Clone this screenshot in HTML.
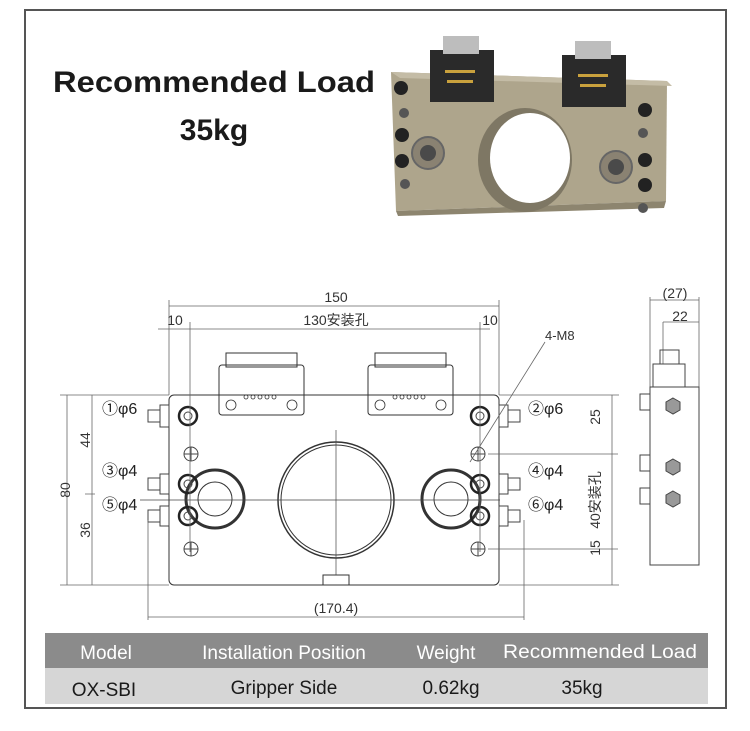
<!DOCTYPE html>
<html><head><meta charset="utf-8"><style>
html,body{margin:0;padding:0;background:#fff;}
svg{display:block;font-family:"Liberation Sans","Noto Sans CJK SC",sans-serif;}
</style></head><body>
<svg width="750" height="731" viewBox="0 0 750 731" xmlns="http://www.w3.org/2000/svg">
<rect x="25" y="10" width="701" height="698" fill="#fff" stroke="#555" stroke-width="2"/>
<!-- title -->
<text x="214" y="92" font-size="30" font-weight="bold" text-anchor="middle" fill="#1a1a1a" textLength="322" lengthAdjust="spacingAndGlyphs">Recommended Load</text>
<text x="214" y="140" font-size="30" font-weight="bold" text-anchor="middle" fill="#1a1a1a">35kg</text>
<!-- photo -->
<g>
<polygon points="391,72 667,81 666,201 396,211" fill="#aea58c"/>
<polygon points="391,72 667,81 672,86 400,78" fill="#c4bca6"/>
<polygon points="396,211 666,201 664,208 398,216" fill="#8d856f"/>
<ellipse cx="525" cy="160" rx="47" ry="52" fill="#7e7764"/>
<ellipse cx="530" cy="158" rx="40" ry="45" fill="#fff"/>
<rect x="430" y="50" width="64" height="52" fill="#2a2a2a"/>
<rect x="443" y="36" width="36" height="18" fill="#bdbdbd"/>
<rect x="562" y="55" width="64" height="52" fill="#2a2a2a"/>
<rect x="575" y="41" width="36" height="18" fill="#bdbdbd"/>
<g fill="#c9a13d"><rect x="445" y="70" width="30" height="3"/><rect x="447" y="80" width="26" height="3"/><rect x="578" y="74" width="30" height="3"/><rect x="580" y="84" width="26" height="3"/></g>
<g fill="#222"><circle cx="401" cy="88" r="7"/><circle cx="402" cy="135" r="7"/><circle cx="402" cy="161" r="7"/><circle cx="645" cy="110" r="7"/><circle cx="645" cy="160" r="7"/><circle cx="645" cy="185" r="7"/></g>
<g fill="#555"><circle cx="404" cy="113" r="5"/><circle cx="405" cy="184" r="5"/><circle cx="643" cy="133" r="5"/><circle cx="643" cy="208" r="5"/></g>
<circle cx="428" cy="153" r="16" fill="#8a8272" stroke="#666" stroke-width="2"/><circle cx="428" cy="153" r="8" fill="#4a4a4a"/>
<circle cx="616" cy="167" r="16" fill="#8a8272" stroke="#666" stroke-width="2"/><circle cx="616" cy="167" r="8" fill="#4a4a4a"/>
</g>
<!-- drawing -->
<g stroke="#333" fill="none" stroke-width="1">
<rect x="169" y="395" width="330" height="190" rx="5"/>
<rect x="219" y="365" width="85" height="50" rx="3"/><rect x="226" y="353" width="71" height="14"/>
<rect x="368" y="365" width="85" height="50" rx="3"/><rect x="375" y="353" width="71" height="14"/>
<circle cx="336" cy="500" r="58" stroke-width="1.5"/><circle cx="336" cy="500" r="55"/>
<path d="M323 585 v-10 h26 v10"/>
<circle cx="215" cy="499" r="29" stroke-width="3"/><circle cx="215" cy="499" r="17"/>
<circle cx="451" cy="499" r="29" stroke-width="3"/><circle cx="451" cy="499" r="17"/>
</g>
<g stroke="#222" fill="none" stroke-width="2.5">
<circle cx="188" cy="416" r="9"/><circle cx="188" cy="484" r="9"/><circle cx="188" cy="516" r="9"/>
<circle cx="480" cy="416" r="9"/><circle cx="480" cy="484" r="9"/><circle cx="480" cy="516" r="9"/>
</g>
<g stroke="#444" fill="none" stroke-width="1">
<circle cx="188" cy="416" r="4"/><circle cx="188" cy="484" r="4"/><circle cx="188" cy="516" r="4"/>
<circle cx="480" cy="416" r="4"/><circle cx="480" cy="484" r="4"/><circle cx="480" cy="516" r="4"/>
<circle cx="191" cy="454" r="7"/><circle cx="191" cy="549" r="7"/><circle cx="478" cy="454" r="7"/><circle cx="478" cy="549" r="7"/>
<path d="M184 454h14M191 447v14M184 549h14M191 542v14M471 454h14M478 447v14M471 549h14M478 542v14"/>
<g stroke-width="0.7"><path d="M336 430v145M270 500h132M140 500h360"/></g>
<!-- fittings -->
<path d="M160 405h9v22h-9zM148 410h12v12h-12zM160 474h9v20h-9zM148 478h12v12h-12zM160 506h9v20h-9zM148 510h12v12h-12z"/>
<path d="M499 405h9v22h-9zM508 410h12v12h-12zM499 474h9v20h-9zM508 478h12v12h-12zM499 506h9v20h-9zM508 510h12v12h-12z"/>
<!-- dims -->
<g stroke="#666" stroke-width="0.8">
<path d="M169 306h330M169 300v95M499 300v95"/>
<path d="M158 329h332M190 322v230M480 322v230"/>
<path d="M60 395h109M60 585h109M67 395v190M92 395v190M85 494h10"/>
<path d="M148 617h376M148 520v100M524 520v100"/>
<path d="M488 454h130M488 549h130M499 395h120M612 395v190M499 585h120M612 454v2"/>
<path d="M470 462l75-120"/>
<path d="M650 387v-90M699 387v-90M650 300h49M663 322h36M663 322v42"/>
</g>
<!-- side view -->
<rect x="650" y="387" width="49" height="178"/>
<rect x="653" y="364" width="32" height="23"/><rect x="660" y="350" width="19" height="14"/>
<rect x="640" y="394" width="10" height="16"/><rect x="640" y="455" width="10" height="16"/><rect x="640" y="488" width="10" height="16"/>
</g>
<g fill="#999" stroke="#444"><polygon points="673,398 680,402 680,410 673,414 666,410 666,402"/><polygon points="673,459 680,463 680,471 673,475 666,471 666,463"/><polygon points="673,491 680,495 680,503 673,507 666,503 666,495"/></g>
<!-- connector pins -->
<g fill="none" stroke="#333" stroke-width="0.8">
<circle cx="246" cy="397" r="2"/><circle cx="253" cy="397" r="2"/><circle cx="260" cy="397" r="2"/><circle cx="267" cy="397" r="2"/><circle cx="274" cy="397" r="2"/>
<circle cx="395" cy="397" r="2"/><circle cx="402" cy="397" r="2"/><circle cx="409" cy="397" r="2"/><circle cx="416" cy="397" r="2"/><circle cx="423" cy="397" r="2"/>
<circle cx="231" cy="405" r="5"/><circle cx="292" cy="405" r="5"/><circle cx="380" cy="405" r="5"/><circle cx="441" cy="405" r="5"/>
</g>
<!-- dim text -->
<g font-size="14" fill="#333">
<text x="336" y="302" text-anchor="middle">150</text>
<text x="336" y="325" text-anchor="middle">130安装孔</text>
<text x="175" y="325" text-anchor="middle">10</text>
<text x="490" y="325" text-anchor="middle">10</text>
<text x="545" y="340" font-size="13">4-M8</text>
<text x="336" y="613" text-anchor="middle">(170.4)</text>
<text x="675" y="298" text-anchor="middle">(27)</text>
<text x="680" y="321" text-anchor="middle">22</text>
<text transform="translate(70,490) rotate(-90)" text-anchor="middle">80</text>
<text transform="translate(90,440) rotate(-90)" text-anchor="middle">44</text>
<text transform="translate(90,530) rotate(-90)" text-anchor="middle">36</text>
<text transform="translate(600,417) rotate(-90)" text-anchor="middle">25</text>
<text transform="translate(600,500) rotate(-90)" text-anchor="middle">40安装孔</text>
<text transform="translate(600,548) rotate(-90)" text-anchor="middle">15</text>
</g>
<g font-size="16" fill="#222">
<text x="102" y="414">①φ6</text><text x="102" y="476">③φ4</text><text x="102" y="510">⑤φ4</text>
<text x="528" y="414">②φ6</text><text x="528" y="476">④φ4</text><text x="528" y="510">⑥φ4</text>
</g>
<!-- table -->
<rect x="45" y="633" width="663" height="35" fill="#8b8b8b"/>
<rect x="45" y="668" width="663" height="36" fill="#d6d6d6"/>
<g font-size="19" fill="#fff">
<text x="106" y="659" text-anchor="middle">Model</text>
<text x="284" y="659" text-anchor="middle">Installation Position</text>
<text x="446" y="659" text-anchor="middle">Weight</text>
<text x="600" y="658" text-anchor="middle" textLength="194" lengthAdjust="spacingAndGlyphs">Recommended Load</text>
</g>
<g font-size="19" fill="#1a1a1a">
<text x="104" y="696" text-anchor="middle">OX-SBI</text>
<text x="284" y="694" text-anchor="middle">Gripper Side</text>
<text x="451" y="694" text-anchor="middle">0.62kg</text>
<text x="582" y="694" text-anchor="middle">35kg</text>
</g>
</svg>
</body></html>
